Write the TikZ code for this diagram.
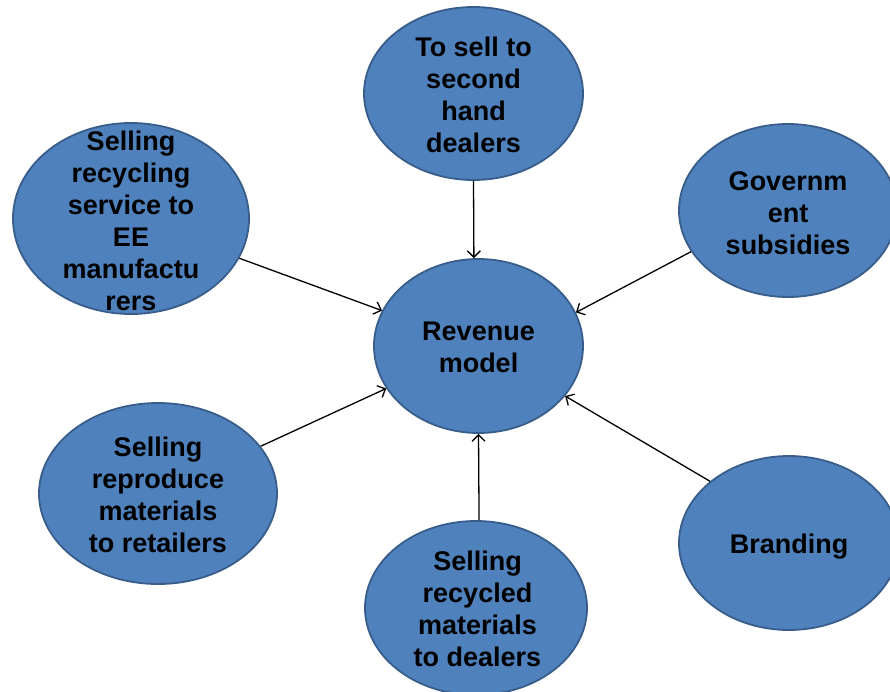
\documentclass[tikz,border=0pt]{standalone}
\usepackage{fontspec}
\setmainfont{Liberation Sans}
\usetikzlibrary{shapes.geometric,arrows.meta}
\definecolor{bubfill}{HTML}{4F81BD}
\definecolor{bubline}{HTML}{385D8A}
\begin{document}
\begin{tikzpicture}[x=1pt,y=-1pt,
  bubble/.style={ellipse,draw=bubline,fill=bubfill,line width=1.8pt,inner sep=0pt},
  txt/.style={align=center,text=black,inner sep=0pt,
    font=\fontsize{27}{32}\selectfont\bfseries},
  feed/.style={draw=black,line width=1.3pt,
    -{Straight Barb[length=6.5pt,width=13pt,line width=1.3pt]}}]
\useasboundingbox (0,0) rectangle (890,691);

% bubbles
\node[bubble,minimum width=209pt,minimum height=174pt] (rev)   at (478.5,346) {};
\node[bubble,minimum width=219pt,minimum height=173pt] (top)   at (473.5,93.5) {};
\node[bubble,minimum width=236pt,minimum height=191pt] (lt)    at (131,218.5) {};
\node[bubble,minimum width=218pt,minimum height=173pt] (gov)   at (788,210.5) {};
\node[bubble,minimum width=238pt,minimum height=181pt] (lb)    at (158,493.5) {};
\node[bubble,minimum width=222pt,minimum height=174pt] (bot)   at (476,608) {};
\node[bubble,minimum width=220pt,minimum height=174pt] (brand) at (789,543) {};

% labels
\node[txt] (rev-t)   at ([yshift=-1pt]rev.center)   {Revenue\\model};
\node[txt] (top-t)   at ([yshift=-1.5pt]top.center)  {To sell to\\second\\hand\\dealers};
\node[txt] (lt-t)    at ([yshift=-2.5pt]lt.center)   {Selling\\recycling\\service to\\EE\\manufactu\\rers};
\node[txt] (gov-t)   at ([yshift=-2.5pt]gov.center)  {Governm\\ent\\subsidies};
\node[txt] (lb-t)    at ([yshift=-1.5pt]lb.center)   {Selling\\reproduce\\materials\\to retailers};
\node[txt] (bot-t)   at ([xshift=1.5pt,yshift=-0.5pt]bot.center)  {Selling\\recycled\\materials\\to dealers};
\node[txt] (brand-t) at ([yshift=-4pt]brand.center) {Branding};

% connectors into the revenue model
\draw[feed] (top.south) -- (rev.93);
\draw[feed] (bot.88) -- (rev.south);
\draw[feed] (lt) -- (rev);
\draw[feed] (lb) -- (rev);
\draw[feed] (gov.203) -- (rev.19);
\draw[feed] (brand.142) -- (rev.-30);
\end{tikzpicture}
\end{document}
